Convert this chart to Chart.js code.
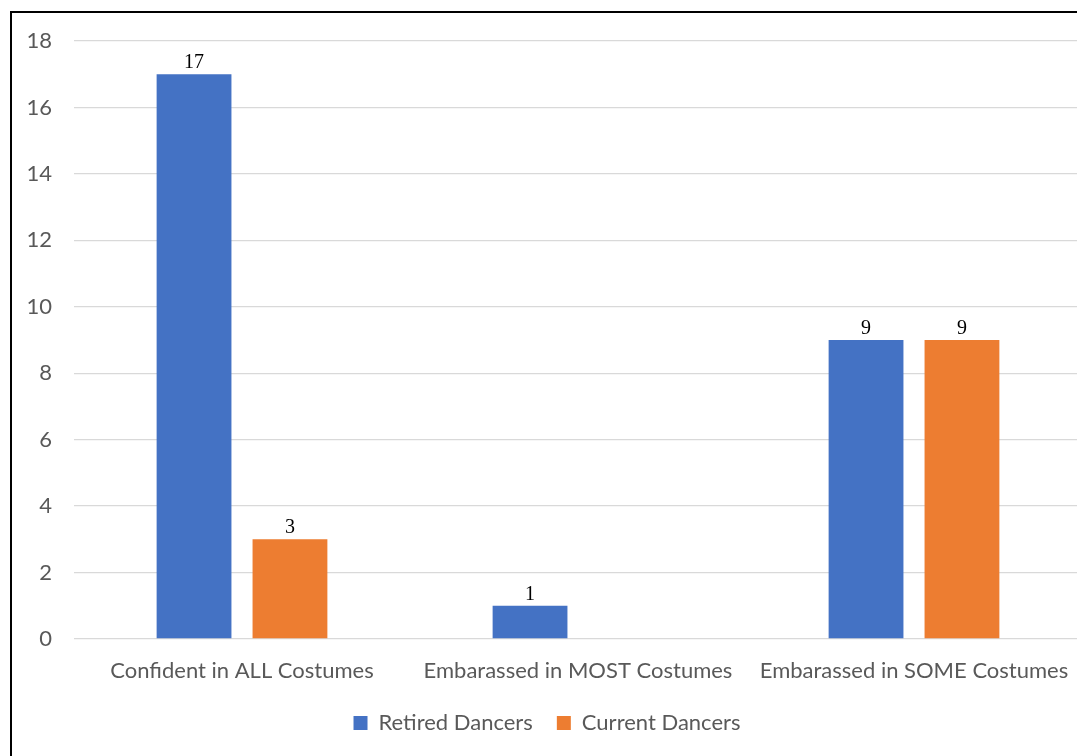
<!DOCTYPE html>
<html>
<head>
<meta charset="utf-8">
<script src="https://cdn.jsdelivr.net/npm/chart.js@4.4.1/dist/chart.umd.min.js"></script>
<style>
  html, body { margin: 0; padding: 0; background: #fff; overflow: hidden; }
  #frame {
    position: absolute; left: 10px; top: 11px;
    width: 1100px; height: 800px;
    border-top: 2px solid #000; border-left: 2px solid #000;
  }
  #chart { display: block; }
</style>
</head>
<body>
<div id="frame">
  <canvas id="chart" width="1080" height="745"></canvas>
</div>
<script>
// survey answers per group
var categories = ['Confident in ALL Costumes', 'Embarassed in MOST Costumes', 'Embarassed in SOME Costumes'];
var retiredDancers = [17, 1, 9];
var currentDancers = [3, null, 9];
var yMax = 18;
var yStep = 2;

var axisFont = { family: 'Lato, "Open Sans", sans-serif', size: 22 };
var textGrey = '#595959';

// value labels above each bar
var barValueLabels = {
  id: 'barValueLabels',
  afterDatasetsDraw: function(chart) {
    var ctx = chart.ctx;
    ctx.save();
    ctx.font = '20px "Liberation Serif", "Times New Roman", serif';
    ctx.fillStyle = '#000';
    ctx.textAlign = 'center';
    ctx.textBaseline = 'alphabetic';
    chart.data.datasets.forEach(function(ds, i) {
      var meta = chart.getDatasetMeta(i);
      meta.data.forEach(function(bar, j) {
        var v = ds.data[j];
        if (v === null || v === undefined) return;
        ctx.fillText(String(v), bar.x, bar.y - 6);
      });
    });
    ctx.restore();
  }
};

var ctx = document.getElementById('chart').getContext('2d');

var chart = new Chart(ctx, {
  type: 'bar',
  data: {
    labels: categories,
    datasets: [{
      label: 'Retired Dancers',
      data: retiredDancers,
      backgroundColor: '#4472C4',
      categoryPercentage: 0.571,
      barPercentage: 0.78
    }, {
      label: 'Current Dancers',
      data: currentDancers,
      backgroundColor: '#ED7D31',
      categoryPercentage: 0.571,
      barPercentage: 0.78
    }]
  },
  options: {
    responsive: false,
    animation: false,
    layout: { padding: { top: 28, right: 10, left: 0, bottom: 14 } },
    plugins: {
      tooltip: { enabled: false },
      legend: {
        position: 'bottom',
        labels: {
          color: textGrey,
          font: axisFont,
          boxWidth: 14,
          boxHeight: 14,
          padding: 24
        }
      }
    },
    scales: {
      x: {
        grid: { display: false },
        border: { display: false },
        ticks: { color: textGrey, font: axisFont, padding: 11, maxRotation: 0 },
        afterFit: function(scale) { scale.height = 49; }
      },
      y: {
        min: 0,
        max: yMax,
        ticks: { stepSize: yStep, color: textGrey, font: axisFont, padding: 22 },
        grid: { color: '#D9D9D9', lineWidth: 1.3, drawTicks: false },
        border: { display: false },
        afterFit: function(scale) {
          scale.width = 62;
          // keep the tick padding from pushing the plot down
          scale.paddingTop = 0;
          scale.paddingBottom = 0;
        }
      }
    }
  },
  plugins: [barValueLabels]
});
</script>
</body>
</html>
